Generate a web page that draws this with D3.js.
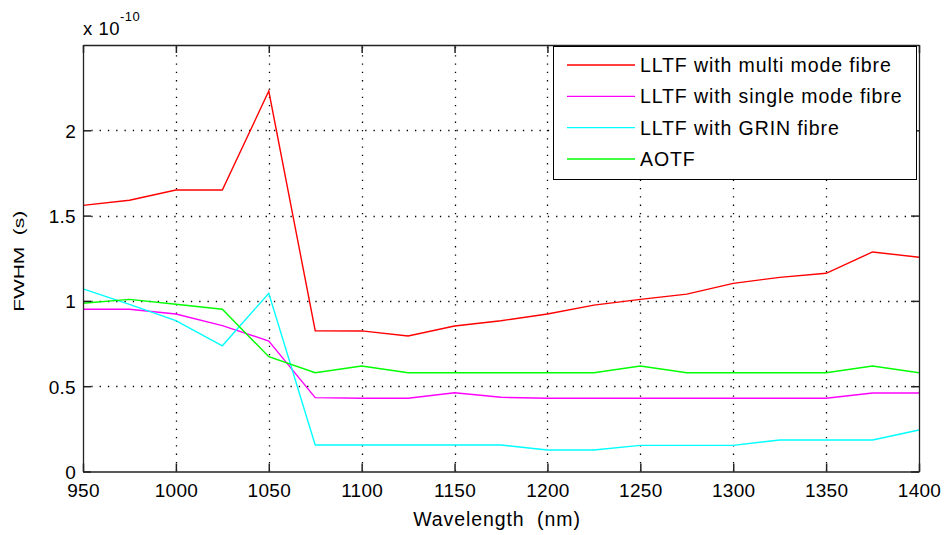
<!DOCTYPE html>
<html><head><meta charset="utf-8">
<script src="https://cdn.jsdelivr.net/npm/d3@7"></script>
<style>
body{margin:0;background:#fff;}
svg text{font-family:"Liberation Sans",Arial,sans-serif;fill:#000;white-space:pre;}
</style></head>
<body><svg id="c" width="944" height="535"></svg>
<script>
const wavelengths = [950,975,1000,1025,1050,1075,1100,1125,1150,1175,1200,1225,1250,1275,1300,1325,1350,1375,1400];
const multiMode  = [1.56,1.59,1.65,1.65,2.23,0.825,0.824,0.794,0.853,0.884,0.923,0.975,1.009,1.04,1.103,1.138,1.162,1.287,1.256];
const singleMode = [0.951,0.951,0.923,0.855,0.765,0.433,0.429,0.429,0.462,0.435,0.429,0.429,0.429,0.429,0.429,0.429,0.429,0.46,0.46];
const grin       = [1.07,0.98,0.884,0.737,1.044,0.155,0.155,0.155,0.155,0.155,0.126,0.126,0.153,0.153,0.153,0.185,0.185,0.185,0.243];
const aotf       = [0.986,1.009,0.98,0.951,0.673,0.579,0.618,0.579,0.579,0.579,0.579,0.579,0.618,0.579,0.579,0.579,0.579,0.618,0.579];
const seriesNames = ["LLTF with multi mode fibre","LLTF with single mode fibre","LLTF with GRIN fibre","AOTF"];
const seriesColors = ["#ff0000","#ff00ff","#00ffff","#00ff00"];
const xTicks = [950,1000,1050,1100,1150,1200,1250,1300,1350,1400];
const yTicks = [0,0.5,1,1.5,2];
const yTickLabels = ["0","0.5","1","1.5","2"];
const xLabel = "Wavelength  (nm)";
const yLabel = "FWHM  (s)";

const series = [multiMode, singleMode, grin, aotf];
const svg = d3.select("#c");
const L=83, R=919, T=45, B=471.5;
const x = d3.scaleLinear().domain([950,1400]).range([L,R]);
const y = d3.scaleLinear().domain([0,2.5]).range([B,T]);

// grid
const g = svg.append("g");
g.selectAll(".vg").data(xTicks.filter(d=>d>950&&d<1400)).join("line")
  .attr("x1",d=>Math.round(x(d))+0.5).attr("x2",d=>Math.round(x(d))+0.5)
  .attr("y1",B).attr("y2",T)
  .attr("stroke","#000").attr("stroke-width",1.3).attr("stroke-dasharray","1.3,7");
g.selectAll(".hg").data(yTicks.filter(d=>d>0)).join("line")
  .attr("y1",d=>Math.round(y(d))+0.5).attr("y2",d=>Math.round(y(d))+0.5)
  .attr("x1",L).attr("x2",R)
  .attr("stroke","#000").attr("stroke-width",1.3).attr("stroke-dasharray","1.3,7");

// data lines
const line = d3.line().x((d,i)=>x(wavelengths[i])).y(d=>y(d));
series.forEach((s,k)=>{
  svg.append("path").datum(s).attr("d",line)
    .attr("fill","none").attr("stroke",seriesColors[k]).attr("stroke-width",1.4);
});

// axes (box, inward ticks)
const ax = svg.append("g");
const xb = ax.append("g").attr("transform",`translate(0,${B})`)
  .call(d3.axisBottom(x).tickValues(xTicks).tickSizeInner(-8).tickSizeOuter(0).tickFormat(d3.format("d")));
const xt = ax.append("g").attr("transform",`translate(0,${T})`)
  .call(d3.axisTop(x).tickValues(xTicks).tickSizeInner(-8).tickSizeOuter(0).tickFormat(""));
const yl = ax.append("g").attr("transform",`translate(${L},0)`)
  .call(d3.axisLeft(y).tickValues(yTicks).tickSizeInner(-8).tickSizeOuter(0).tickFormat((d,i)=>yTickLabels[i]));
const yr = ax.append("g").attr("transform",`translate(${R},0)`)
  .call(d3.axisRight(y).tickValues(yTicks).tickSizeInner(-8).tickSizeOuter(0).tickFormat(""));
ax.selectAll(".domain").attr("stroke","#222").attr("stroke-width",1.3);
ax.selectAll(".tick line").attr("stroke","#222").attr("stroke-width",1.5);
ax.selectAll(".tick text").attr("font-family","Liberation Sans").attr("font-size",19)
  .attr("letter-spacing",0.3).attr("fill","#000");
xb.selectAll(".tick text").attr("dy","0.71em").attr("y",12);
yl.selectAll(".tick text").attr("x",-7).attr("dy","0.36em");

// exponent
const ex = svg.append("text").attr("x",83).attr("y",35).attr("font-size",18.5).attr("letter-spacing",0.5);
ex.append("tspan").text("x 10");
ex.append("tspan").attr("font-size",13).attr("dy",-14).text("-10");

// axis labels
svg.append("text").attr("x",(L+R)/2-4).attr("y",526).attr("text-anchor","middle")
  .attr("font-size",19.5).attr("letter-spacing",0.9).text(xLabel);
svg.append("text").attr("transform",`translate(24,${(T+B)/2+3}) rotate(-90)`)
  .attr("text-anchor","middle").attr("font-size",15)
  .attr("textLength",101).attr("lengthAdjust","spacingAndGlyphs").text(yLabel);

// legend
const lg = svg.append("g");
lg.append("rect").attr("x",553.5).attr("y",46.5).attr("width",363).attr("height",133)
  .attr("fill","#fff").attr("stroke","#000").attr("stroke-width",1);
const rowY = d3.scalePoint().domain(seriesNames).range([65,159]);
seriesNames.forEach((n,k)=>{
  lg.append("line").attr("x1",567).attr("x2",635).attr("y1",rowY(n)).attr("y2",rowY(n))
    .attr("stroke",seriesColors[k]).attr("stroke-width",1.4);
  lg.append("text").attr("x",640).attr("y",rowY(n)).attr("dy","0.36em")
    .attr("font-size",19.5).attr("letter-spacing",0.9).text(n);
});
</script></body></html>
